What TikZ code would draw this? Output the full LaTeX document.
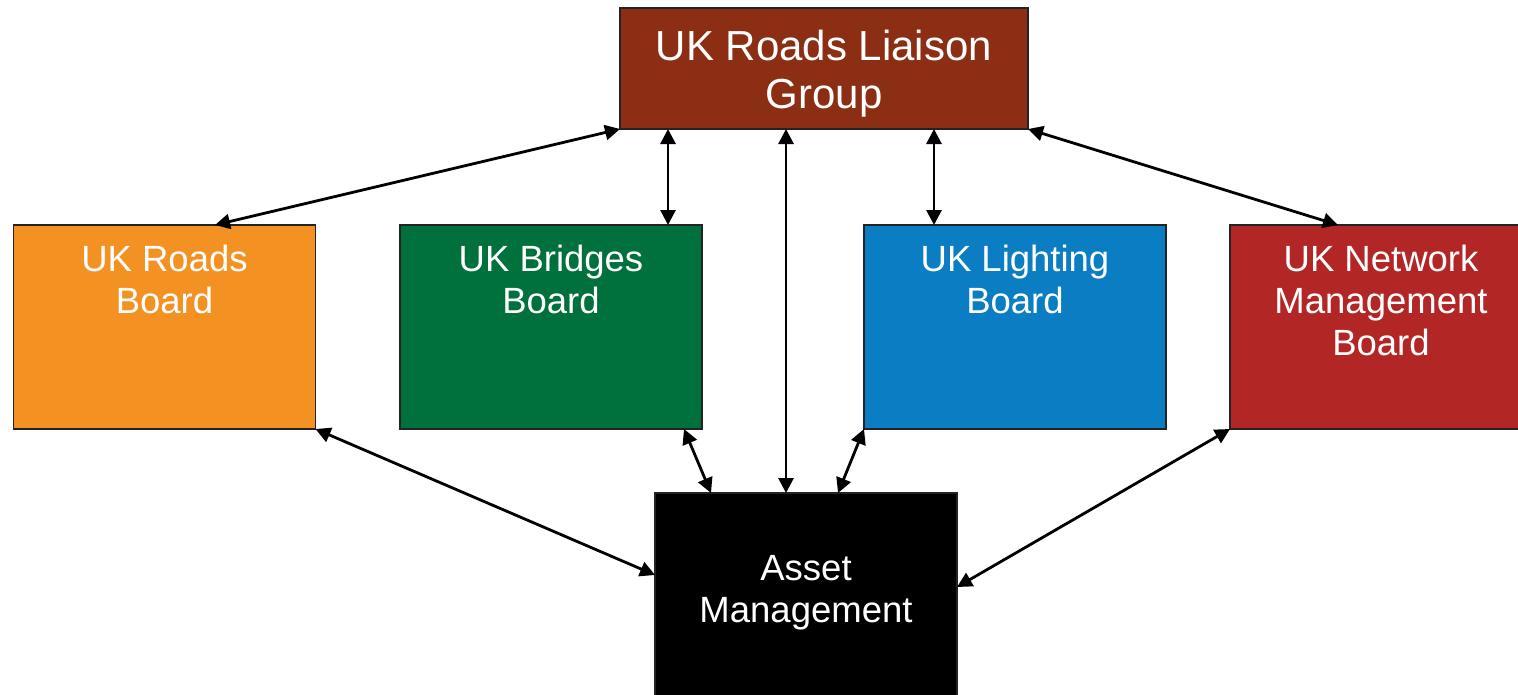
\documentclass[tikz,border=0pt]{standalone}
\usepackage{fontspec}
\setmainfont{Liberation Sans}
\usetikzlibrary{arrows.meta,calc}
\definecolor{cbrown}{RGB}{140,46,19}
\definecolor{corange}{RGB}{243,146,34}
\definecolor{cgreen}{RGB}{0,112,60}
\definecolor{cblue}{RGB}{10,125,195}
\definecolor{cred}{RGB}{178,38,38}
\definecolor{cedge}{RGB}{35,35,35}
\begin{document}
\begin{tikzpicture}[x=1pt,y=-1pt,
  box/.style={draw=cedge, line width=1.3pt, minimum width=302pt, minimum height=204pt, inner sep=0pt, outer sep=0pt},
  lbl/.style={text=white, align=center, inner sep=0pt, anchor=north, font=\fontsize{36.5}{42}\selectfont},
  toplbl/.style={lbl, font=\fontsize{42}{48}\selectfont},
  link/.style={line width=2.8pt, {Triangle[length=15pt,width=15pt]}-{Triangle[length=15pt,width=15pt]}}]
\useasboundingbox (0,0) rectangle (1518,694);
% boxes
\node[box, fill=cbrown, minimum width=408pt, minimum height=121pt] (top) at (824,68.5) {};
\node[box, fill=corange] (rb) at (164.5,327) {};
\node[box, fill=cgreen] (bb) at (551,327) {};
\node[box, fill=cblue] (lb) at (1015,327) {};
\node[box, fill=cred] (nb) at (1381,327) {};
\node[box, fill=black, minimum height=212pt] (am) at (806,599) {};
% labels
\node[toplbl] (ttop) at (824,30) {UK Roads Liaison\\Group};
\node[lbl] (trb) at (164.5,245) {UK Roads\\Board};
\node[lbl] (tbb) at (551,245) {UK Bridges\\Board};
\node[lbl] (tlb) at (1015,245) {UK Lighting\\Board};
\node[lbl] (tnb) at (1381,245) {UK Network\\Management\\Board};
\node[lbl] (tam) at (806,555) {Asset\\Management};
% connectors
\draw[link] (top.south west) -- ($(rb.north)+(50.5,0)$);
\draw[link] ($(top.south west)+(48,0)$) -- ($(bb.north east)+(-34,0)$);
\draw[link] ($(top.south west)+(166,0)$) -- ($(am.north west)+(131,0)$);
\draw[link] ($(top.south west)+(314,0)$) -- ($(lb.north west)+(70,0)$);
\draw[link] (top.south east) -- ($(nb.north west)+(108,0)$);
\draw[link] (rb.south east) -- ($(am.north west)+(0,82)$);
\draw[link] ($(bb.south east)+(-18,0)$) -- ($(am.north west)+(56,0)$);
\draw[link] (lb.south west) -- ($(am.north west)+(183,0)$);
\draw[link] (nb.south west) -- ($(am.north east)+(0,94)$);
\end{tikzpicture}
\end{document}
